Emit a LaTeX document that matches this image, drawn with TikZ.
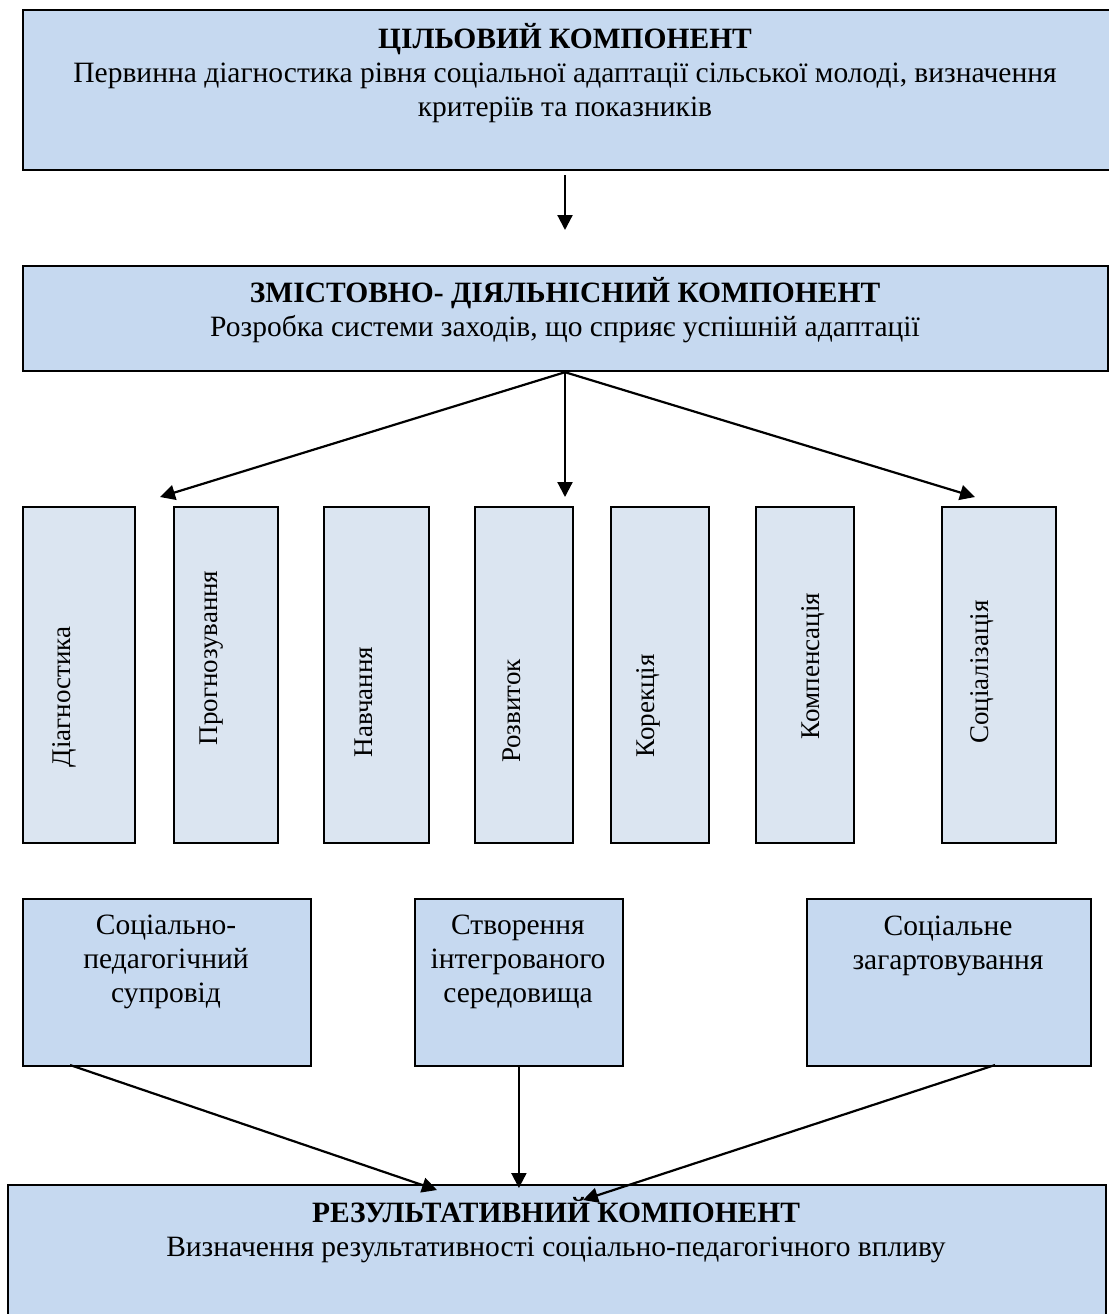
\documentclass[tikz,border=0pt]{standalone}
\usepackage{fontspec}
\setmainfont{Liberation Serif}
\usetikzlibrary{arrows.meta}
\definecolor{boxblue}{HTML}{C6D9F0}
\definecolor{vblue}{HTML}{DBE5F1}
\begin{document}
\begin{tikzpicture}[x=1pt,y=-1pt,
  box/.style={draw=black, line width=2.2pt, fill=boxblue, inner sep=0pt, anchor=north west},
  vbox/.style={draw=black, line width=1.6pt, fill=vblue, inner sep=0pt, anchor=north west, minimum height=336pt},
  lbox/.style={draw=black, line width=1.8pt, fill=boxblue, inner sep=0pt, anchor=north west, minimum height=167pt},
  txt/.style={font=\fontsize{29.5}{34}\selectfont, align=center, inner sep=0pt},
  vtxt/.style={font=\fontsize{27}{32}\selectfont, rotate=90, inner sep=0pt},
  arr/.style={line width=2.2pt, -{Triangle[length=15pt,width=15pt]}}]
\useasboundingbox (0,0) rectangle (1108,1314);

% main boxes
\node[box, minimum width=1090pt, minimum height=160pt] (top) at (22,9) {};
\node[box, minimum width=1085pt, minimum height=105pt] (mid) at (22,265) {};
\node[box, minimum width=1098pt, minimum height=170pt] (res) at (7,1184) {};

\node[txt] (toptxt) at (565,73) {\textbf{ЦІЛЬОВИЙ КОМПОНЕНТ}\\Первинна діагностика рівня соціальної адаптації сільської молоді, визначення\\критеріїв та показників};
\node[txt] (midtxt) at (565,310) {\textbf{ЗМІСТОВНО- ДІЯЛЬНІСНИЙ КОМПОНЕНТ}\\Розробка системи заходів, що сприяє успішній адаптації};
\node[txt] (restxt) at (556,1230) {\textbf{РЕЗУЛЬТАТИВНИЙ КОМПОНЕНТ}\\Визначення результативності соціально-педагогічного впливу};

% vertical boxes
\node[vbox, minimum width=112pt] (v1) at (22,506) {};
\node[vbox, minimum width=104pt] (v2) at (173,506) {};
\node[vbox, minimum width=105pt] (v3) at (323,506) {};
\node[vbox, minimum width=98pt] (v4) at (474,506) {};
\node[vbox, minimum width=98pt] (v5) at (610,506) {};
\node[vbox, minimum width=98pt] (v6) at (755,506) {};
\node[vbox, minimum width=114pt] (v7) at (941,506) {};

\node[vtxt] (t1) at (64,697) {Діагностика};
\node[vtxt] (t2) at (212,658) {Прогнозування};
\node[vtxt] (t3) at (364,702) {Навчання};
\node[vtxt] (t4) at (512,711) {Розвиток};
\node[vtxt] (t5) at (648,706) {Корекція};
\node[vtxt] (t6) at (813,666) {Компенсація};
\node[vtxt] (t7) at (982,672) {Соціалізація};

% lower boxes
\node[lbox, minimum width=288pt] (l1) at (22,898) {};
\node[lbox, minimum width=208pt] (l2) at (414,898) {};
\node[lbox, minimum width=284pt] (l3) at (806,898) {};

\node[txt] (lt1) at (166,962) {Соціально-\\педагогічний\\супровід};
\node[txt] (lt2) at (518,962) {Створення\\інтегрованого\\середовища};
\node[txt] (lt3) at (948,946) {Соціальне\\загартовування};

% free ends
\coordinate (fL) at (160,497);
\coordinate (fM) at (565,497);
\coordinate (fR) at (975,497);
\coordinate (s1) at (70,1065);
\coordinate (s3) at (995,1065);
\coordinate (e1) at (437,1190);
\coordinate (e3) at (583,1200);

% connectors
\draw[arr, shorten <=4pt, shorten >=35pt] (top.south -| fM) -- (mid.north -| fM);
\draw[arr] (mid.south -| fM) -- (fL);
\draw[arr] (mid.south -| fM) -- (fM);
\draw[arr] (mid.south -| fM) -- (fR);
\draw[arr] (s1) -- (e1);
\draw[arr, shorten >=-4pt] (l2.south) -- (l2.south |- res.north);
\draw[arr] (s3) -- (e3);
\end{tikzpicture}
\end{document}
